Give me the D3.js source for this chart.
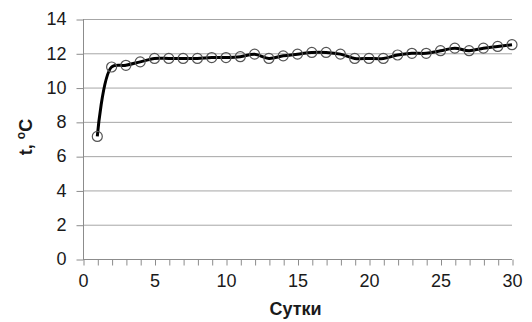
<!DOCTYPE html>
<html>
<head>
<meta charset="utf-8">
<script src="https://cdn.jsdelivr.net/npm/d3@7"></script>
<style>
  body { margin: 0; background: #fff; }
  text { font-family: "Liberation Sans", Arial, sans-serif; }
</style>
</head>
<body>
<div class="vis-chart"></div>
<script>
// Days (Сутки) and temperatures
const days = d3.range(1, 31);
const temps = [7.15, 11.2, 11.3, 11.5, 11.7, 11.7, 11.7, 11.7, 11.75, 11.75,
               11.8, 11.95, 11.7, 11.85, 11.95, 12.05, 12.05, 11.95, 11.7, 11.7,
               11.7, 11.9, 12.0, 12.0, 12.15, 12.3, 12.15, 12.3, 12.4, 12.5];
const xTicks = [0, 5, 10, 15, 20, 25, 30];
const yTicks = [0, 2, 4, 6, 8, 10, 12, 14];

const W = 532, H = 322;
const margin = { top: 19, right: 20, bottom: 63, left: 83 };
const width = W - margin.left - margin.right;
const height = H - margin.top - margin.bottom;

const svg = d3.select(".vis-chart")
    .append("svg")
    .attr("width", W)
    .attr("height", H)
    .append("g")
    .attr("transform", `translate(${margin.left},${margin.top})`);

const x = d3.scaleLinear().domain([0, 30]).range([0, width]);
const y = d3.scaleLinear().domain([0, 14]).range([height, 0]);

// Horizontal gridlines
svg.append("g")
    .selectAll("line")
    .data(yTicks.filter(d => d > 0))
    .join("line")
    .attr("x1", 0)
    .attr("x2", width)
    .attr("y1", d => y(d) + 0.5)
    .attr("y2", d => y(d) + 0.5)
    .attr("stroke", "#a6a6a6")
    .attr("stroke-width", 1);

// Y axis
const yAxis = svg.append("g")
    .attr("transform", "translate(0.5,0)")
    .call(d3.axisLeft(y).tickValues(yTicks).tickSize(7).tickPadding(10));
yAxis.select(".domain").attr("stroke", "#8c8c8c").attr("d", `M0,0V${height}`);
yAxis.selectAll(".tick line").attr("stroke", "#8c8c8c").attr("transform", "translate(0,0.5)");
yAxis.selectAll(".tick text")
    .attr("font-size", 18)
    .attr("fill", "#1a1a1a")
    .style("font-family", "'Liberation Sans', Arial, sans-serif");

// X axis with minor ticks every day
const xMinor = svg.append("g")
    .attr("transform", `translate(0,${height + 0.5})`)
    .call(d3.axisBottom(x).ticks(30).tickSize(6).tickFormat(""));
xMinor.select(".domain").attr("stroke", "#8c8c8c").attr("d", `M0,0H${width}`);
xMinor.selectAll(".tick line").attr("stroke", "#8c8c8c").attr("transform", "translate(0.5,0)");

const xAxis = svg.append("g")
    .attr("transform", `translate(0,${height})`)
    .call(d3.axisBottom(x).tickValues(xTicks).tickSize(0).tickPadding(15));
xAxis.select(".domain").remove();
xAxis.selectAll(".tick text")
    .attr("font-size", 18)
    .attr("fill", "#1a1a1a")
    .style("font-family", "'Liberation Sans', Arial, sans-serif");

// Axis titles
svg.append("text")
    .attr("x", x(15) - 2)
    .attr("y", height + 56)
    .attr("text-anchor", "middle")
    .attr("font-size", 18)
    .attr("font-weight", "bold")
    .attr("fill", "#1a1a1a")
    .text("Сутки");

const yTitle = svg.append("text")
    .attr("transform", "rotate(-90)")
    .attr("x", -y(7) + 2)
    .attr("y", -margin.left + 32)
    .attr("text-anchor", "middle")
    .attr("font-size", 18)
    .attr("font-weight", "bold")
    .attr("fill", "#1a1a1a");
yTitle.append("tspan").text("t, ");
yTitle.append("tspan").attr("font-size", 12).attr("dy", -7).text("o");
yTitle.append("tspan").attr("dy", 7).text("C");

// Smoothed line
const data = days.map((d, i) => ({ day: d, t: temps[i] }));
const line = d3.line()
    .x(d => x(d.day))
    .y(d => y(d.t))
    .curve(d3.curveCatmullRom.alpha(0.5));

svg.append("path")
    .datum(data)
    .attr("fill", "none")
    .attr("stroke", "#000")
    .attr("stroke-width", 3)
    .attr("stroke-linejoin", "round")
    .attr("d", line);

// Markers
svg.append("g")
    .selectAll("circle")
    .data(data)
    .join("circle")
    .attr("cx", d => x(d.day))
    .attr("cy", d => y(d.t))
    .attr("r", 5)
    .attr("fill", "none")
    .attr("stroke", "#555")
    .attr("stroke-width", 1.2);
</script>
</body>
</html>
